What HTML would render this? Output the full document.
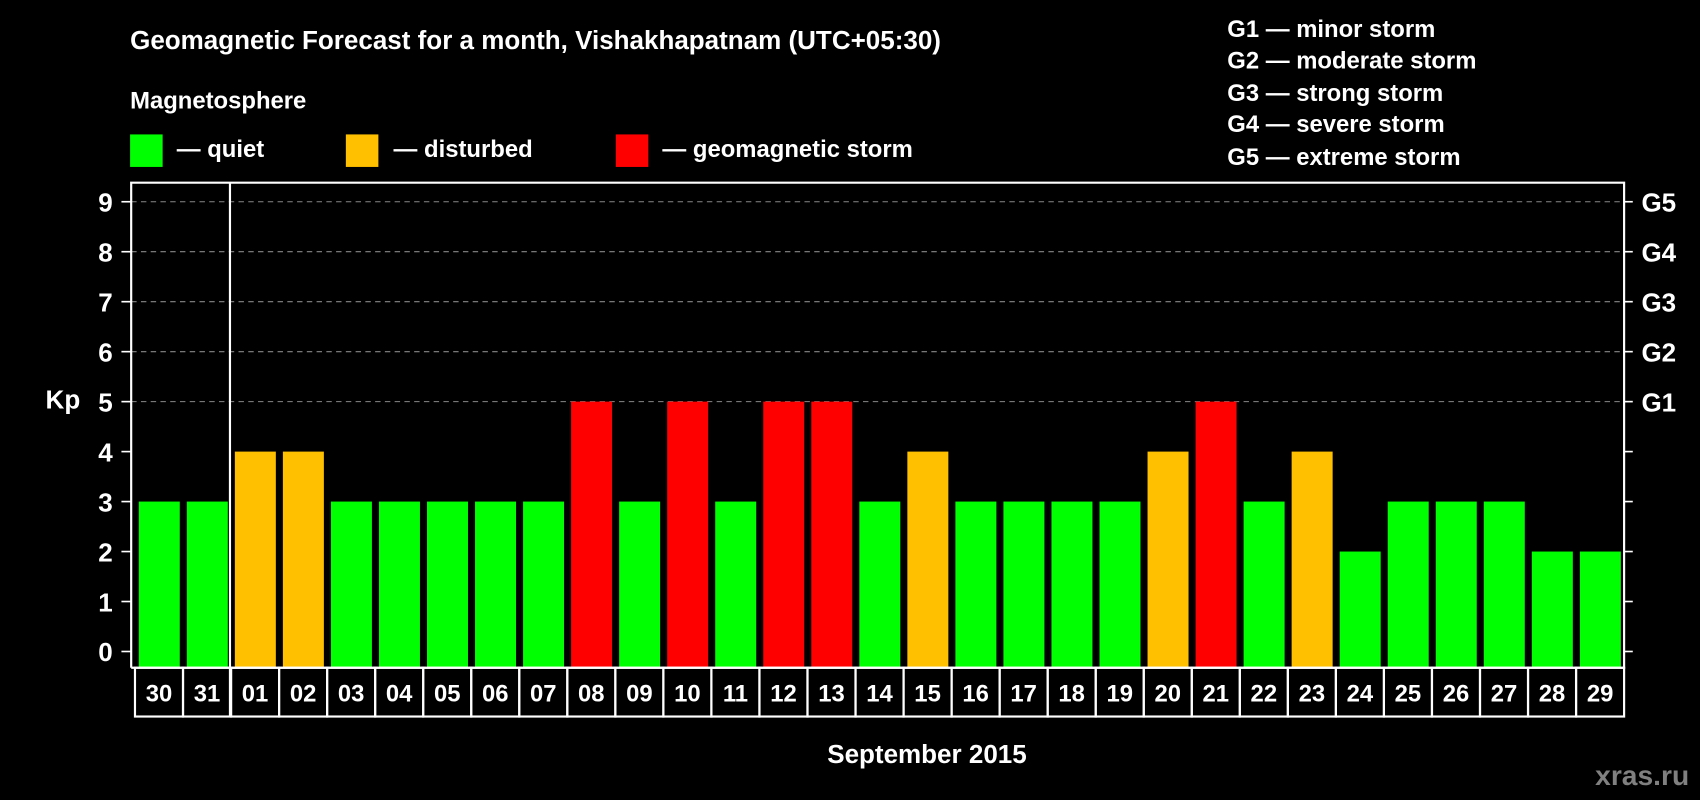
<!DOCTYPE html>
<html><head><meta charset="utf-8"><style>
html,body{margin:0;padding:0;background:#000;}
svg{display:block;font-family:"Liberation Sans",Arial,sans-serif;font-weight:bold;}
</style></head><body>
<svg id="chart" width="1700" height="800" viewBox="0 0 1568 738" preserveAspectRatio="none">
<rect x="0" y="0" width="1568" height="738" fill="#000"/>
<text x="120" y="45" fill="#fff" font-size="24">Geomagnetic Forecast for a month, Vishakhapatnam (UTC+05:30)</text>
<text x="120" y="100" fill="#fff" font-size="22">Magnetosphere</text>
<g><rect x="120" y="124" width="30" height="30" fill="#00ff00"/><text x="163" y="145" fill="#fff" font-size="22">— quiet</text></g>
<g><rect x="319" y="124" width="30" height="30" fill="#ffc000"/><text x="363" y="145" fill="#fff" font-size="22">— disturbed</text></g>
<g><rect x="568" y="124" width="30" height="30" fill="#ff0000"/><text x="611" y="145" fill="#fff" font-size="22">— geomagnetic storm</text></g>
<g fill="#fff" font-size="22">
<text x="1132" y="34">G1 — minor storm</text>
<text x="1132" y="63">G2 — moderate storm</text>
<text x="1132" y="93">G3 — strong storm</text>
<text x="1132" y="122">G4 — severe storm</text>
<text x="1132" y="152">G5 — extreme storm</text>
</g>
<text x="58" y="377" fill="#fff" font-size="24" text-anchor="middle">Kp</text>
<text x="855" y="704" fill="#fff" font-size="24" text-anchor="middle">September 2015</text>
<text x="1558" y="724" fill="#808080" font-size="26" text-anchor="end">xras.ru</text>
<g id="grid"></g><g id="bars"></g><g id="axes"></g>
</svg>
<script>
const days = ["30","31","01","02","03","04","05","06","07","08","09","10","11","12","13","14","15","16","17","18","19","20","21","22","23","24","25","26","27","28","29"];
const kpValues = [3,3,4,4,3,3,3,3,3,5,3,5,3,5,5,3,4,3,3,3,3,4,5,3,4,2,3,3,3,2,2];
const yTicks = [0,1,2,3,4,5,6,7,8,9];
const gLabels = ["G1","G2","G3","G4","G5"];
const NS="http://www.w3.org/2000/svg";
const X0=124.5, X1=1498, PT=168.5, PB=616, CB=661;
const slot=(X1-X0)/days.length;
const y=v=>601-v*46.1;
const xs=i=>X0+i*slot;
function mk(t,a,p){const e=document.createElementNS(NS,t);for(const k in a)e.setAttribute(k,a[k]);(p||document.getElementById('axes')).appendChild(e);return e;}
const grid=document.getElementById('grid'),bars=document.getElementById('bars');
yTicks.forEach(v=>{
 if(v>=5){const l=mk('line',{x1:121,x2:X1,y1:y(v),y2:y(v),stroke:'#888','stroke-dasharray':'5,4','stroke-width':1},grid);
 
 }
 mk('line',{x1:112,x2:121,y1:y(v),y2:y(v),stroke:'#fff','stroke-width':1.5});
 mk('line',{x1:X1,x2:X1+8,y1:y(v),y2:y(v),stroke:'#fff','stroke-width':1.5});
 const t=mk('text',{x:104,y:y(v)+9,fill:'#fff','font-size':24,'text-anchor':'end'});t.textContent=v;
 
 
});
gLabels.forEach((g,i)=>{const t=mk('text',{x:1514,y:y(5+i)+9,fill:'#fff','font-size':24});t.textContent=g;
 
 });
kpValues.forEach((v,i)=>{
 const c=v>=5?'#ff0000':(v>=4?'#ffc000':'#00ff00');
 const r=mk('rect',{x:xs(i)+3.5,y:y(v),width:slot-6.5,height:PB-y(v),fill:c},bars);
 
 
 const cell=mk('rect',{x:xs(i),y:PB,width:slot,height:CB-PB,fill:'none',stroke:'#fff','stroke-width':2});
 
 
 const t=mk('text',{x:xs(i)+slot/2,y:647,fill:'#fff','font-size':22,'text-anchor':'middle'});t.textContent=days[i];
 
 
});
const f=mk('path',{d:`M121,${PB} V${PT} H${X1} V${PB} H121`,fill:'none',stroke:'#fff','stroke-width':2});


const sep=mk('line',{x1:xs(2)-1,x2:xs(2)-1,y1:PT,y2:CB,stroke:'#fff','stroke-width':2});


</script>
</body></html>
